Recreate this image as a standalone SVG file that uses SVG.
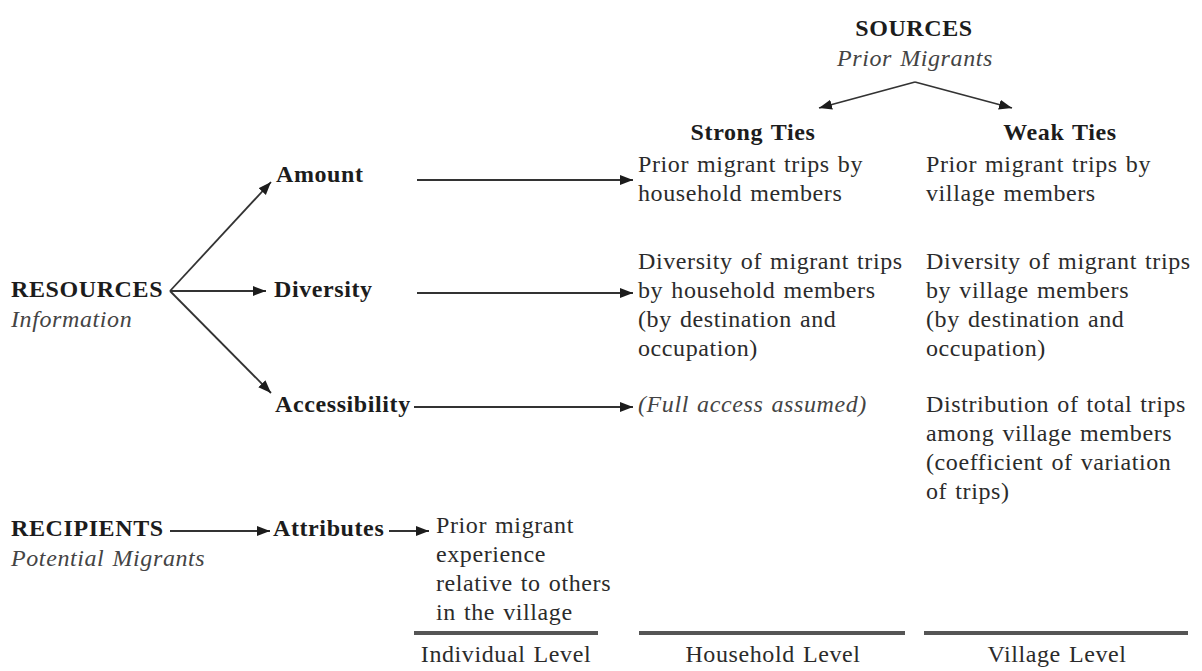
<svg xmlns="http://www.w3.org/2000/svg" width="1202" height="671" viewBox="0 0 1202 671">
  <style>
    text { font-family: "Liberation Serif", "Times New Roman", serif; font-size: 24px; letter-spacing: 0.6px; word-spacing: 1.5px; fill: #2b2b2b; }
    .b { font-weight: bold; fill: #1c1c1c; }
    .i { font-style: italic; fill: #444; }
    .mid { text-anchor: middle; }
    .edge { stroke: #333; stroke-width: 1.8; fill: none; marker-end: url(#arrow); }
    .rule { stroke: #555; stroke-width: 4; }
  </style>
  <defs>
    <marker id="arrow" markerUnits="userSpaceOnUse" markerWidth="14" markerHeight="12" refX="13" refY="5" orient="auto">
      <path d="M0,0 L13,5 L0,10 Z" fill="#1c1c1c"/>
    </marker>
  </defs>
  <rect width="1202" height="671" fill="#fff"/>

  <!-- column heads -->
  <g id="sources">
    <text class="b mid" x="914" y="36">SOURCES</text>
    <text class="i mid" x="915" y="66">Prior Migrants</text>
  </g>
  <g id="strong-ties">
    <text class="b mid" x="753" y="140">Strong Ties</text>
  </g>
  <g id="weak-ties">
    <text class="b mid" x="1060" y="140">Weak Ties</text>
  </g>

  <!-- left-hand categories -->
  <g id="resources">
    <text class="b" x="11" y="297">RESOURCES</text>
    <text class="i" x="11" y="327">Information</text>
  </g>
  <g id="amount"><text class="b" x="276" y="182">Amount</text></g>
  <g id="diversity"><text class="b" x="274" y="297">Diversity</text></g>
  <g id="accessibility"><text class="b" x="275" y="412">Accessibility</text></g>

  <!-- household (strong ties) and village (weak ties) measures -->
  <g id="strong-amount">
    <text x="638" y="172">Prior migrant trips by</text>
    <text x="638" y="201">household members</text>
  </g>
  <g id="weak-amount">
    <text x="926" y="172">Prior migrant trips by</text>
    <text x="926" y="201">village members</text>
  </g>
  <g id="strong-diversity">
    <text x="638" y="269">Diversity of migrant trips</text>
    <text x="638" y="298">by household members</text>
    <text x="638" y="327">(by destination and</text>
    <text x="638" y="356">occupation)</text>
  </g>
  <g id="weak-diversity">
    <text x="926" y="269">Diversity of migrant trips</text>
    <text x="926" y="298">by village members</text>
    <text x="926" y="327">(by destination and</text>
    <text x="926" y="356">occupation)</text>
  </g>
  <g id="strong-accessibility">
    <text class="i" x="638" y="412">(Full access assumed)</text>
  </g>
  <g id="weak-accessibility">
    <text x="926" y="412">Distribution of total trips</text>
    <text x="926" y="441">among village members</text>
    <text x="926" y="470">(coefficient of variation</text>
    <text x="926" y="499">of trips)</text>
  </g>

  <!-- recipients row -->
  <g id="recipients">
    <text class="b" x="11" y="536">RECIPIENTS</text>
    <text class="i" x="11" y="566">Potential Migrants</text>
  </g>
  <g id="attributes"><text class="b" x="273" y="536">Attributes</text></g>
  <g id="individual-experience">
    <text x="436" y="533">Prior migrant</text>
    <text x="436" y="562">experience</text>
    <text x="436" y="591">relative to others</text>
    <text x="436" y="620">in the village</text>
  </g>

  <!-- level rules and captions -->
  <g id="levels">
    <line class="rule" x1="414" y1="633" x2="598" y2="633"/>
    <line class="rule" x1="639" y1="633" x2="905" y2="633"/>
    <line class="rule" x1="924" y1="633" x2="1188" y2="633"/>
    <text class="mid" x="506" y="662">Individual Level</text>
    <text class="mid" x="773" y="662">Household Level</text>
    <text class="mid" x="1057" y="662">Village Level</text>
  </g>

  <g id="connectors">
    <path class="edge" d="M915,82 L819,108"/>
    <path class="edge" d="M915,82 L1012,108"/>
    <path class="edge" d="M170,291 L271,182"/>
    <path class="edge" d="M170,291 L266,291"/>
    <path class="edge" d="M170,291 L271,393"/>
    <path class="edge" d="M417,180 L633,180"/>
    <path class="edge" d="M417,293 L633,293"/>
    <path class="edge" d="M414,407 L633,407"/>
    <path class="edge" d="M170,531 L270,531"/>
    <path class="edge" d="M389,531 L429,531"/>
  </g>
</svg>
